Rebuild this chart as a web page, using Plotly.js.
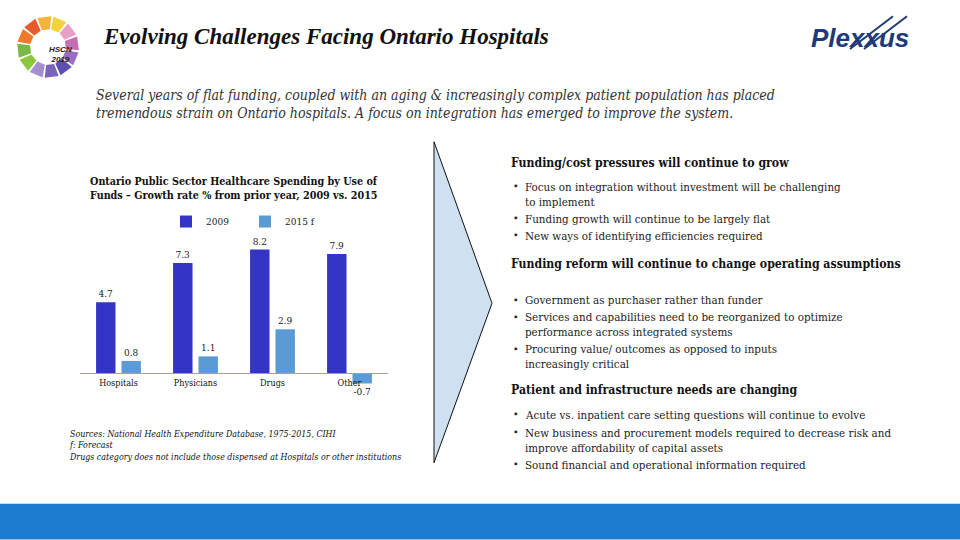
<!DOCTYPE html>
<html>
<head>
<meta charset="utf-8">
<script src="https://cdn.plot.ly/plotly-3.0.1.min.js"></script>
<style>
html,body{margin:0;padding:0;background:#fff;}
#chart{width:960px;height:540px;}
</style>
</head>
<body>
<div id="chart"></div>
<script>
// ---- data ----
const categories = ['Hospitals', 'Physicians', 'Drugs', 'Other'];
const growth2009 = [4.7, 7.3, 8.2, 7.9];
const growth2015f = [0.8, 1.1, 2.9, -0.7];
const seriesNames = ['2009', '2015 f'];

const pageTitle = 'Evolving Challenges Facing Ontario Hospitals';
const subtitleLines = [
  'Several years of flat funding, coupled with an aging &amp; increasingly complex patient population has placed',
  'tremendous strain on Ontario hospitals. A focus on integration has emerged to improve the system.'
];
const chartTitleLines = [
  'Ontario Public Sector Healthcare Spending by Use of',
  'Funds – Growth rate % from prior year, 2009 vs. 2015'
];
const noteLines = [
  'Sources: National Health Expenditure Database, 1975-2015, CIHI',
  'f: Forecast',
  'Drugs category does not include those dispensed at Hospitals or other institutions'
];
const sections = [
  {heading: 'Funding/cost pressures will continue to grow', y: 162, bullets: [
    {lines: ['Focus on integration without investment will be challenging', 'to implement'], y: 185},
    {lines: ['Funding growth will continue to be largely flat'], y: 217},
    {lines: ['New ways of identifying efficiencies required'], y: 234}
  ]},
  {heading: 'Funding reform will continue to change operating assumptions', y: 264, bullets: [
    {lines: ['Government as purchaser rather than funder'], y: 299},
    {lines: ['Services and capabilities need to be reorganized to optimize', 'performance across integrated systems'], y: 316},
    {lines: ['Procuring value/ outcomes as opposed to inputs', 'increasingly critical'], y: 348}
  ]},
  {heading: 'Patient and infrastructure needs are changing', y: 390, bullets: [
    {lines: ['Acute vs. inpatient care setting questions will continue to evolve'], y: 414},
    {lines: ['New business and procurement models required to decrease risk and', 'improve affordability of capital assets'], y: 432},
    {lines: ['Sound financial and operational information required'], y: 464}
  ]}
];

// ---- layout geometry (pixels) ----
const PL = 80, PR = 388, PT = 229.5, PB = 388;
const W = 960, H = 540;
const X = px => (px - PL) / (PR - PL);
const Y = py => (PB - py) / (PB - PT);
const yRange = [-1, 9.5];

const times = 'Liberation Serif, Times New Roman, serif';
const cam = 'DejaVu Serif Condensed, DejaVu Serif, serif';

const traces = [
  {type: 'bar', name: seriesNames[0], x: categories, y: growth2009,
   marker: {color: '#3434c6'}, text: growth2009.map(String), textposition: 'outside',
   textfont: {family: cam, size: 10, color: '#222'}, cliponaxis: false},
  {type: 'bar', name: seriesNames[1], x: categories, y: growth2015f,
   marker: {color: '#5b9bd5'}, text: growth2015f.map(String), textposition: 'outside',
   textfont: {family: cam, size: 10, color: '#222'}, cliponaxis: false}
];

const annotations = [];
const shapes = [];

// subtitle
annotations.push({xref: 'paper', yref: 'paper', x: X(94), y: Y(84), xanchor: 'left', yanchor: 'top',
  text: subtitleLines.join('<br>'), showarrow: false, align: 'left',
  font: {family: cam, size: 14, color: '#333', style: 'italic'}});

// chart title
annotations.push({xref: 'paper', yref: 'paper', x: X(88), y: Y(172), xanchor: 'left', yanchor: 'top',
  text: '<b>' + chartTitleLines.join('<br>') + '</b>', showarrow: false, align: 'left',
  font: {family: cam, size: 10.7, color: '#111'}});

// notes
annotations.push({xref: 'paper', yref: 'paper', x: X(67), y: Y(427), xanchor: 'left', yanchor: 'top',
  text: noteLines.join('<br>'), showarrow: false, align: 'left',
  font: {family: cam, size: 8.8, color: '#111', style: 'italic'}});

// right side text
sections.forEach(s => {
  annotations.push({xref: 'paper', yref: 'paper', x: X(509), y: Y(s.y), xanchor: 'left', yanchor: 'middle',
    text: '<b>' + s.heading + '</b>', showarrow: false, align: 'left',
    font: {family: cam, size: 12.2, color: '#111'}});
  s.bullets.forEach(b => {
    annotations.push({xref: 'paper', yref: 'paper', x: X(512), y: Y(b.y), xanchor: 'left', yanchor: 'middle',
      text: '▪', showarrow: false, font: {family: times, size: 10, color: '#222'}});
    annotations.push({xref: 'paper', yref: 'paper', x: X(523), y: Y(b.y - 8), xanchor: 'left', yanchor: 'top',
      text: b.lines.join('<br>'), showarrow: false, align: 'left',
      font: {family: cam, size: 11.5, color: '#222'}});
  });
});

// Plexxus logo text
annotations.push({xref: 'paper', yref: 'paper', x: X(809), y: Y(37), xanchor: 'left', yanchor: 'middle',
  text: '<b><i>Plexxus</i></b>', showarrow: false,
  font: {family: 'Liberation Sans, Arial, sans-serif', size: 26, color: '#1f3a78'}});
[[850, 48, 893, 15], [864, 48, 907, 15]].forEach(l => {
  shapes.push({type: 'line', xref: 'paper', yref: 'paper', x0: X(l[0]), y0: Y(l[1]), x1: X(l[2]), y1: Y(l[3]),
    line: {color: '#1f3a78', width: 2}});
});

// HSCN logo ring
const ringColors = ['#f4d23c', '#e9a0c8', '#c36fb0', '#9b6cc4', '#5d4fb0', '#7a64b8', '#a58fd0', '#8cc63f', '#79b843', '#f07a2a', '#e85a2e', '#f4b33a'];
const cx = 48, cy = 46, rO = 31, rI = 18;
ringColors.forEach((c, i) => {
  const a0 = (-80 + i * 30) * Math.PI / 180, a1 = (-80 + i * 30 + 26) * Math.PI / 180;
  const p = (r, a) => X(cx + r * Math.cos(a)).toFixed(5) + ',' + Y(cy + r * Math.sin(a)).toFixed(5);
  shapes.push({type: 'path', xref: 'paper', yref: 'paper',
    path: 'M' + p(rI, a0) + ' L' + p(rO, a0) + ' L' + p(rO, a1) + ' L' + p(rI, a1) + ' Z',
    fillcolor: c, line: {width: 0}});
});
annotations.push({xref: 'paper', yref: 'paper', x: X(47), y: Y(42), text: '<b><i>HSCN<br>2019</i></b>',
  showarrow: false, font: {family: 'Liberation Sans, Arial, sans-serif', size: 8, color: '#222'}});

// chevron
shapes.push({type: 'path', xref: 'paper', yref: 'paper',
  path: 'M' + X(434) + ',' + Y(141) + ' L' + X(492) + ',' + Y(303) + ' L' + X(434) + ',' + Y(463) + ' Z',
  fillcolor: '#cfe0f1', line: {color: '#111', width: 1}});

// bottom bar
shapes.push({type: 'rect', xref: 'paper', yref: 'paper', x0: X(0), x1: X(960), y0: Y(540), y1: Y(504),
  fillcolor: '#1f7bd0', line: {width: 0}});

const layout = {
  width: W, height: H,
  margin: {l: PL, r: W - PR, t: PT, b: H - PB, pad: 0},
  paper_bgcolor: '#fff', plot_bgcolor: '#fff',
  title: {text: '<b><i>' + pageTitle + '</i></b>', xref: 'container', yref: 'container',
    x: 104 / W, y: 1 - 36 / H, xanchor: 'left', yanchor: 'middle',
    font: {family: times, size: 23, color: '#111'}},
  barmode: 'group', bargap: 0.34, bargroupgap: 0.235,
  showlegend: true,
  legend: {orientation: 'h', x: X(166), y: Y(221), xanchor: 'left', yanchor: 'middle',
    font: {family: cam, size: 10, color: '#222'}, itemwidth: 30, entrywidth: 34, tracegroupgap: 0,
    bgcolor: 'rgba(0,0,0,0)'},
  xaxis: {type: 'category', anchor: 'free', position: (0 - yRange[0]) / (yRange[1] - yRange[0]),
    showline: true, linecolor: '#a89f91', linewidth: 1, ticks: '', showgrid: false, ticklabelstandoff: 1,
    tickfont: {family: cam, size: 9, color: '#111'}, fixedrange: true},
  yaxis: {range: yRange, visible: false, showgrid: false, zeroline: false, fixedrange: true},
  annotations: annotations,
  shapes: shapes
};

Plotly.newPlot('chart', traces, layout, {displayModeBar: false, staticPlot: true});
</script>
</body>
</html>
